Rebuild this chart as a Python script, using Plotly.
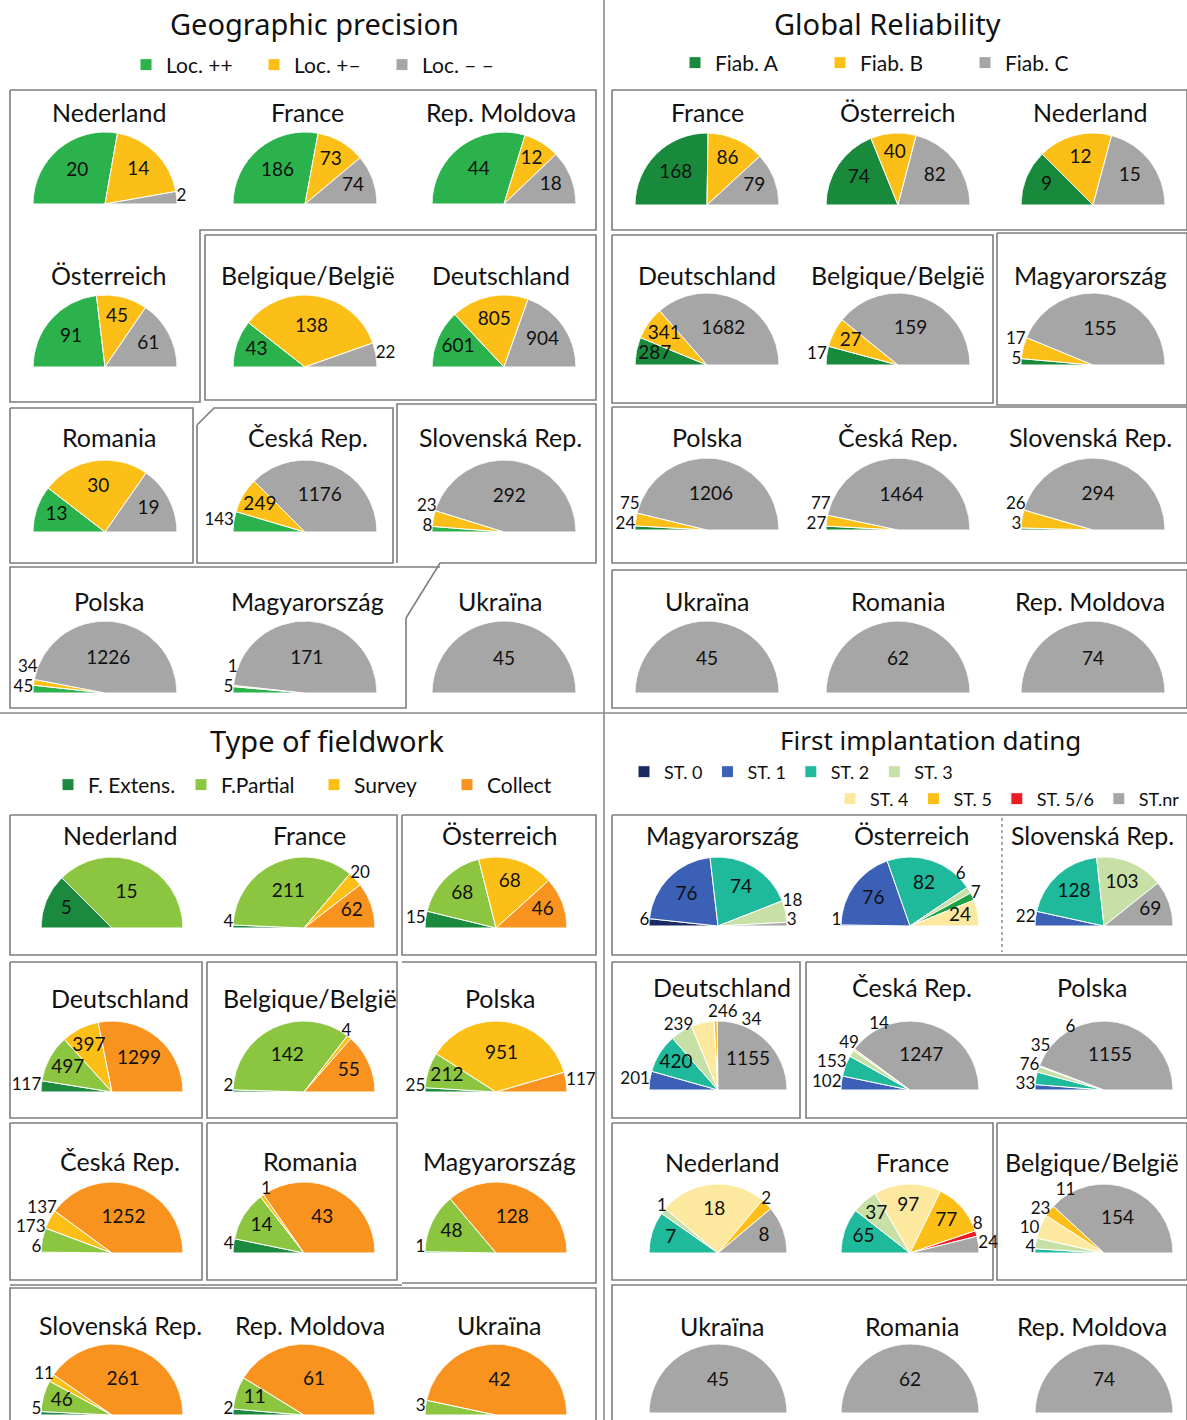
import math
import plotly.graph_objects as go

W, H = 1187, 1420
FONT = 'Lato, "Noto Sans", sans-serif'
TITLE_FONT = '"Noto Sans", sans-serif'

# ---------------- Geographic precision ----------------
geo_countries = ['Nederland', 'France', 'Rep. Moldova', 'Österreich', 'Belgique/België', 'Deutschland',
                 'Romania', 'Česká Rep.', 'Slovenská Rep.', 'Polska', 'Magyarország', 'Ukraïna']
geo_names = ['Loc. ++', 'Loc. +–', 'Loc. – –']
geo_loc_pp = [20, 186, 44, 91, 43, 601, 13, 143, 8, 45, 5, 0]
geo_loc_pm = [14, 73, 12, 45, 138, 805, 30, 249, 23, 34, 1, 0]
geo_loc_mm = [2, 74, 18, 61, 22, 904, 19, 1176, 292, 1226, 171, 45]

# ---------------- Global reliability ----------------
rel_countries = ['France', 'Österreich', 'Nederland', 'Deutschland', 'Belgique/België', 'Magyarország',
                 'Polska', 'Česká Rep.', 'Slovenská Rep.', 'Ukraïna', 'Romania', 'Rep. Moldova']
rel_names = ['Fiab. A', 'Fiab. B', 'Fiab. C']
rel_fiab_a = [168, 74, 9, 287, 17, 5, 24, 27, 3, 0, 0, 0]
rel_fiab_b = [86, 40, 12, 341, 27, 17, 75, 77, 26, 0, 0, 0]
rel_fiab_c = [79, 82, 15, 1682, 159, 155, 1206, 1464, 294, 45, 62, 74]

# ---------------- Type of fieldwork ----------------
fw_countries = ['Nederland', 'France', 'Österreich', 'Deutschland', 'Belgique/België', 'Polska',
                'Česká Rep.', 'Romania', 'Magyarország', 'Slovenská Rep.', 'Rep. Moldova', 'Ukraïna']
fw_names = ['F. Extens.', 'F.Partial', 'Survey', 'Collect']
fw_extens = [5, 4, 15, 117, 2, 25, 6, 4, 1, 5, 2, 0]
fw_partial = [15, 211, 68, 497, 142, 212, 173, 14, 48, 46, 11, 3]
fw_survey = [0, 20, 68, 397, 4, 951, 137, 1, 0, 11, 0, 0]
fw_collect = [0, 62, 46, 1299, 55, 117, 1252, 43, 128, 261, 61, 42]

# ---------------- First implantation dating ----------------
st_countries = ['Magyarország', 'Österreich', 'Slovenská Rep.', 'Deutschland', 'Česká Rep.', 'Polska',
                'Nederland', 'France', 'Belgique/België', 'Ukraïna', 'Romania', 'Rep. Moldova']
st_names = ['ST. 0', 'ST. 1', 'ST. 2', 'ST. 3', 'ST. 3/4', 'ST. 4', 'ST. 5', 'ST. 5/6', 'ST.nr']
st_0 = [6, 1, 0, 0, 0, 0, 0, 0, 0, 0, 0, 0]
st_1 = [76, 76, 22, 201, 102, 33, 0, 0, 0, 0, 0, 0]
st_2 = [74, 82, 128, 420, 153, 76, 7, 65, 4, 0, 0, 0]
st_3 = [18, 6, 103, 239, 49, 35, 1, 37, 10, 0, 0, 0]
st_34 = [0, 7, 0, 0, 0, 0, 0, 0, 0, 0, 0, 0]
st_4 = [0, 24, 0, 246, 14, 6, 18, 97, 23, 0, 0, 0]
st_5 = [0, 0, 0, 34, 0, 0, 2, 77, 11, 0, 0, 0]
st_56 = [0, 0, 0, 0, 0, 0, 0, 8, 0, 0, 0, 0]
st_nr = [3, 0, 69, 1155, 1247, 1155, 8, 24, 154, 45, 62, 74]

GREEN, YELLOW, GREY = '#2bb24c', '#fcbf17', '#a6a6a6'

panels = [
    dict(title='Geographic precision', tpos=(314, 24), tsize=29, countries=geo_countries, names=geo_names,
         series=[geo_loc_pp, geo_loc_pm, geo_loc_mm], colors=[GREEN, YELLOW, GREY],
         legends=['legend'] * 3,
         cx=[105, 305, 504], base=[204, 367, 532, 693], r=72, ty=[112, 275, 437, 601], tdx=[4, 3, -3]),
    dict(title='Global Reliability', tpos=(887, 24), tsize=29, countries=rel_countries, names=rel_names,
         series=[rel_fiab_a, rel_fiab_b, rel_fiab_c], colors=['#198a3c', YELLOW, GREY],
         legends=['legend2'] * 3,
         cx=[707, 898, 1093], base=[205, 365, 530, 693], r=72, ty=[112, 275, 437, 601], tdx=[0, 0, -3]),
    dict(title='Type of fieldwork', tpos=(327, 740), tsize=29, countries=fw_countries, names=fw_names,
         series=[fw_extens, fw_partial, fw_survey, fw_collect],
         colors=['#1b8a3e', '#8cc540', YELLOW, '#f7931e'],
         legends=['legend3'] * 4,
         cx=[112, 304, 496], base=[928, 1092, 1253, 1415], r=71, ty=[835, 998, 1161, 1325], tdx=[8, 6, 4]),
    dict(title='First implantation dating', tpos=(930, 740), tsize=26, countries=st_countries, names=st_names,
         series=[st_0, st_1, st_2, st_3, st_34, st_4, st_5, st_56, st_nr],
         colors=['#1c2a63', '#3b60b5', '#1fb99b', '#c7e0a5', '#1fa246', '#fde8a0', YELLOW, '#ec1c24', GREY],
         legends=['legend4'] * 4 + [None] + ['legend5'] * 4,
         cx=[718, 910, 1104], base=[926, 1090, 1253, 1413], r=69, ty=[835, 987, 1162, 1326], tdx=[4, 2, -12]),
]


def px_x(x):
    return x / W


def px_y(y):
    return 1 - y / H


def slices(values):
    # half pie: the whole series spans 180 degrees, starting at 9 o'clock
    total = sum(values)
    out, start = [], 0.0
    for i, v in enumerate(values):
        if v <= 0:
            continue
        span = v / total * 180
        out.append((i, v, start + span / 2, span))
        start += span
    return out


fig = go.Figure()
polars = {}
annotations = []
k = 0
for p in panels:
    annotations.append(dict(x=px_x(p['tpos'][0]), y=px_y(p['tpos'][1]), text=p['title'], showarrow=False,
                            xref='paper', yref='paper', xanchor='center', yanchor='middle',
                            font=dict(family=TITLE_FONT, size=p['tsize'], color='#111')))
    seen = set()
    for idx, country in enumerate(p['countries']):
        row, col = divmod(idx, 3)
        cx, by, r = p['cx'][col], p['base'][row], p['r']
        k += 1
        pname = 'polar' if k == 1 else 'polar%d' % k
        polars[pname] = dict(
            domain=dict(x=[px_x(cx - r), px_x(cx + r)], y=[px_y(by), px_y(by - r)]),
            sector=[0, 180], hole=0, bgcolor='rgba(0,0,0,0)',
            radialaxis=dict(visible=False, range=[0, 1]),
            angularaxis=dict(visible=False, direction='clockwise', rotation=180),
        )
        annotations.append(dict(x=px_x(cx + p['tdx'][col]), y=px_y(p['ty'][row]), text=country,
                                showarrow=False, xref='paper', yref='paper', xanchor='center',
                                yanchor='middle', font=dict(family=FONT, size=25, color='#111')))

        values = [s[idx] for s in p['series']]
        parts = slices(values)
        for i, v, mid, span in parts:
            leg = p['legends'][i]
            show = leg is not None and i not in seen
            if show:
                seen.add(i)
            fig.add_trace(go.Barpolar(
                r=[1], theta=[mid], width=[span], subplot=pname, name=p['names'][i],
                marker=dict(color=p['colors'][i], line=dict(color='white', width=1)),
                showlegend=show, legend=leg or 'legend', legendrank=i + 1,
                hovertemplate='%s<br>%s: %d<extra></extra>' % (country, p['names'][i], v)))

        # value labels: wide slices inside, narrow ones outside, stacked along the rim
        tr, tt, tx, tpos, tsize = [], [], [], [], []
        outs = []
        for i, v, mid, span in parts:
            if span >= 21:
                tr.append(min(0.74, 0.78 - 0.0018 * span))
                tt.append(mid)
                tx.append(str(v))
                tpos.append('middle center')
                tsize.append(19)
            else:
                outs.append((i, v, mid))
        left = sorted([o for o in outs if o[2] <= 90], key=lambda o: o[2])
        right = sorted([o for o in outs if o[2] > 90], key=lambda o: -o[2])
        for group, side in ((left, -1), (right, 1)):
            prev_y, prev_ang, prev_top = -1.0, None, None
            for i, v, mid in group:
                a = mid if side < 0 else 180 - mid
                ly = max(1.1 * math.sin(math.radians(a)), prev_y + 0.28, 0.07)
                if prev_top is None and ly <= 0.97:
                    prev_y = ly
                    ang = math.degrees(math.asin(ly))
                    prev_ang = ang
                    pos = 'middle left' if side < 0 else 'middle right'
                else:
                    # no room left along the side: put the label above the rim
                    ang = a
                    if prev_ang is not None:
                        ang = max(ang, prev_ang + 25)
                    if prev_top is not None:
                        ang = max(ang, prev_top + 25)
                    prev_top = ang
                    pos = 'top center'
                tr.append(0.999)
                tt.append(ang if side < 0 else 180 - ang)
                tx.append(str(v))
                tpos.append(pos)
                tsize.append(17)
        fig.add_trace(go.Scatterpolar(r=tr, theta=tt, text=tx, mode='text', subplot=pname, showlegend=False,
                                      textposition=tpos, cliponaxis=False, hoverinfo='skip',
                                      textfont=dict(family=FONT, size=tsize, color='#111')))

# ---------------- frames around country groups ----------------
boxes = [
    # geographic precision
    [(10, 90), (596, 90), (596, 230), (200, 230), (200, 402), (10, 402), (10, 90)],
    [(205, 235), (596, 235), (596, 400), (205, 400), (205, 235)],
    [(10, 408), (193, 408), (193, 563), (10, 563), (10, 408)],
    [(197, 425), (214, 408), (393, 408), (393, 563), (197, 563), (197, 425)],
    [(397, 563), (397, 404), (596, 404), (596, 563), (440, 563), (406, 618)],
    [(406, 618), (406, 708), (10, 708), (10, 567), (440, 567)],
    # global reliability
    [(612, 90), (1187, 90), (1187, 230), (612, 230), (612, 90)],
    [(612, 235), (993, 235), (993, 403), (612, 403), (612, 235)],
    [(997, 233), (1187, 233), (1187, 405), (997, 405), (997, 233)],
    [(612, 407), (1187, 407), (1187, 563), (612, 563), (612, 407)],
    [(612, 570), (1187, 570), (1187, 708), (612, 708), (612, 570)],
    # type of fieldwork
    [(10, 815), (397, 815), (397, 955), (10, 955), (10, 815)],
    [(402, 815), (596, 815), (596, 955), (402, 955), (402, 815)],
    [(10, 962), (202, 962), (202, 1118), (10, 1118), (10, 962)],
    [(207, 962), (397, 962), (397, 1118), (207, 1118), (207, 962)],
    [(402, 962), (596, 962), (596, 1283), (402, 1283)],
    [(10, 1123), (202, 1123), (202, 1280), (10, 1280), (10, 1123)],
    [(207, 1123), (397, 1123), (397, 1280), (207, 1280), (207, 1123)],
    [(10, 1285), (402, 1285)],
    [(10, 1420), (10, 1288), (596, 1288), (596, 1420)],
    # first implantation dating
    [(612, 815), (1187, 815), (1187, 955), (612, 955), (612, 815)],
    [(612, 962), (800, 962), (800, 1118), (612, 1118), (612, 962)],
    [(806, 962), (1187, 962), (1187, 1118), (806, 1118), (806, 962)],
    [(612, 1123), (993, 1123), (993, 1280), (612, 1280), (612, 1123)],
    [(997, 1123), (1187, 1123), (1187, 1280), (997, 1280), (997, 1123)],
    [(612, 1420), (612, 1285), (1187, 1285), (1187, 1420)],
]
shapes = []
for pts in boxes:
    path = 'M ' + ' L '.join('%.5f %.5f' % (px_x(x), px_y(y)) for x, y in pts)
    shapes.append(dict(type='path', path=path, xref='paper', yref='paper',
                       line=dict(color='#7d7d7d', width=1.6), layer='below'))
# panel dividers
shapes.append(dict(type='line', xref='paper', yref='paper', x0=px_x(604), x1=px_x(604), y0=0, y1=1,
                   line=dict(color='#8a8a8a', width=1.6)))
shapes.append(dict(type='line', xref='paper', yref='paper', x0=0, x1=1, y0=px_y(713), y1=px_y(713),
                   line=dict(color='#8a8a8a', width=1.6)))
shapes.append(dict(type='line', xref='paper', yref='paper', x0=px_x(1002), x1=px_x(1002),
                   y0=px_y(818), y1=px_y(952), line=dict(color='#555', width=1, dash='dot')))

leg_common = dict(orientation='h', bgcolor='rgba(0,0,0,0)', xanchor='left', yanchor='middle',
                  itemwidth=30, entrywidthmode='pixels', traceorder='normal',
                  font=dict(family=FONT, size=21, color='#111'))
leg_small = dict(leg_common, font=dict(family=FONT, size=18, color='#111'))

fig.update_layout(
    width=W, height=H, margin=dict(l=0, r=0, t=0, b=0),
    paper_bgcolor='white', plot_bgcolor='white',
    showlegend=True,
    legend=dict(leg_common, x=px_x(126), y=px_y(65), entrywidth=83),
    legend2=dict(leg_common, x=px_x(675), y=px_y(63), entrywidth=100),
    legend3=dict(leg_common, x=px_x(48), y=px_y(785), entrywidth=88),
    legend4=dict(leg_small, x=px_x(624), y=px_y(772), entrywidth=0),
    legend5=dict(leg_small, x=px_x(830), y=px_y(799), entrywidth=0),
    annotations=annotations,
    shapes=shapes,
    **polars,
)

fig.write_html('out.html', config={'displayModeBar': False},
               post_script="document.body.style.margin='0';document.body.style.overflow='hidden';")
